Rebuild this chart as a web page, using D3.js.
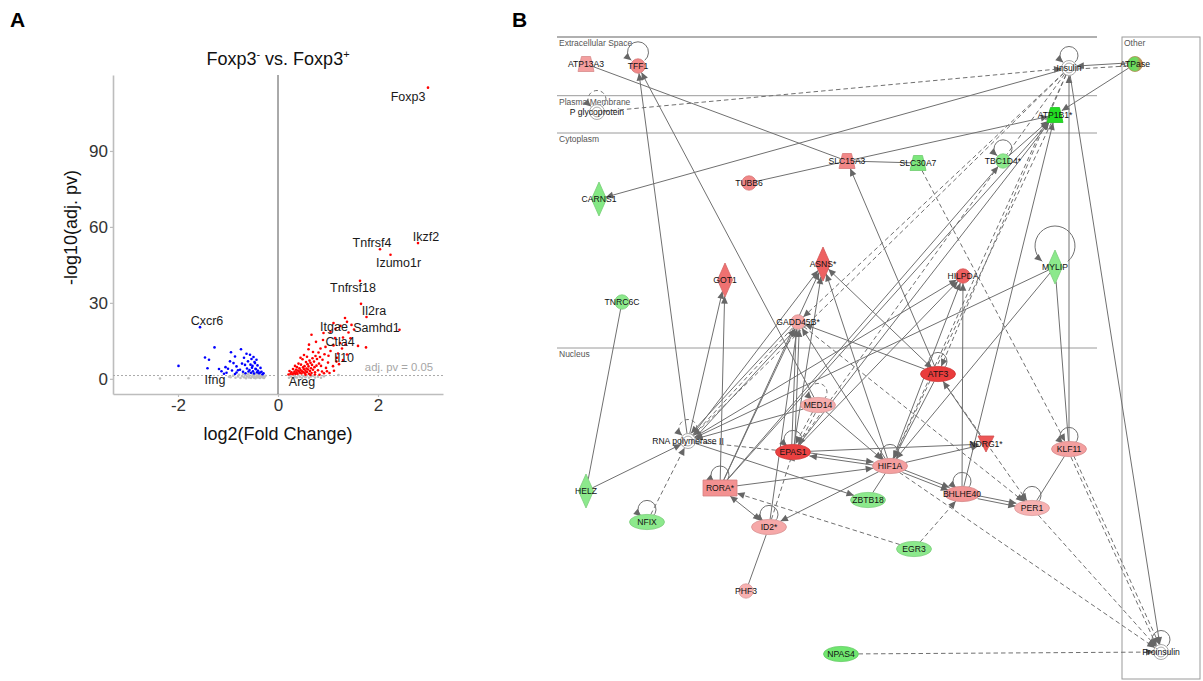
<!DOCTYPE html>
<html>
<head>
<meta charset="utf-8">
<script src="https://cdn.jsdelivr.net/npm/d3@7"></script>
<style>
  html, body { margin: 0; padding: 0; background: #fff; }
  svg { display: block; font-family: Arial, "Liberation Sans", Helvetica, sans-serif; opacity: 0.999; }
</style>
</head>
<body>
<svg id="fig" width="1203" height="681"></svg>
<script>
// ======================= Panel A: volcano plot data =======================
// each point: [log2 fold change, -log10 adjusted p]
const sigDown = [
  [-1.99,5.1],[-1.27,12.4],[-1.46,8.4],[-1.38,7.5],[-1.41,4.2],[-1.18,3.9],[-1.13,3.0],[-1.03,2.4],
  [-1.05,4.6],[-0.96,6.9],[-0.94,10.5],[-0.89,6.2],[-0.86,8.8],[-0.83,4.9],[-0.83,2.5],[-0.80,3.4],
  [-0.76,3.6],[-0.74,11.7],[-0.72,6.0],[-0.70,2.8],[-0.68,8.3],[-0.66,5.5],[-0.65,2.2],[-0.63,9.9],
  [-0.62,4.1],[-0.60,6.9],[-0.59,2.9],[-0.57,3.5],[-0.56,9.5],[-0.55,5.6],[-0.54,2.4],[-0.53,7.8],
  [-0.52,4.4],[-0.51,5.1],[-0.50,3.0],[-0.49,8.6],[-0.48,2.1],[-0.47,6.6],[-0.46,6.2],[-0.45,4.0],
  [-0.44,3.8],[-0.43,7.5],[-0.42,2.6],[-0.41,5.3],[-0.40,3.2],[-0.38,2.2],[-0.36,2.5],[-0.35,4.3],
  [-0.33,2.8],[-0.31,1.8],[-0.29,2.2],[-0.86,1.9],[-0.92,3.3],[-1.00,4.0],[-1.08,2.0]
];
const sigUp = [
  [1.77,24.4],[1.34,24.0],[1.47,21.3],[1.41,18.3],[1.52,19.5],[1.45,16.0],[1.11,22.0],[0.91,18.1],
  [0.67,17.4],[1.14,16.1],[1.24,14.1],[1.11,13.2],[1.76,12.4],[0.61,11.7],[0.81,10.4],[1.01,9.1],
  [0.89,7.5],[1.05,11.0],[1.20,10.0],[1.28,12.0],[0.95,12.6],[1.35,13.5],[1.18,8.3],[1.22,5.8],
  [1.10,5.0],[1.00,6.4],[0.96,4.3],[0.93,9.7],[0.85,12.0],[0.84,8.6],[0.82,6.0],[0.80,3.4],
  [0.78,7.8],[0.77,5.2],[0.75,9.0],[0.74,2.6],[0.73,4.6],[0.72,6.8],[0.70,3.6],[0.69,8.1],
  [0.68,5.5],[0.67,2.3],[0.66,4.2],[0.65,6.3],[0.64,3.1],[0.63,7.2],[0.62,2.0],[0.61,4.9],
  [0.60,3.7],[0.59,5.8],[0.58,2.7],[0.57,4.1],[0.56,6.6],[0.55,3.2],[0.54,2.2],[0.53,5.0],
  [0.52,3.8],[0.51,2.6],[0.50,4.5],[0.49,7.7],[0.48,3.0],[0.47,2.1],[0.46,5.6],[0.45,3.5],
  [0.44,2.4],[0.43,4.2],[0.42,2.9],[0.41,6.0],[0.40,3.3],[0.39,2.0],[0.38,4.6],[0.37,2.6],
  [0.36,3.6],[0.35,1.9],[0.34,5.1],[0.33,2.9],[0.32,2.2],[0.30,3.9],[0.29,1.8],[0.27,2.6],
  [0.25,2.0],[0.23,3.1],[0.21,1.7],[0.88,2.9],[0.92,2.2],[0.86,5.1],[0.98,3.0],[1.03,2.3],
  [0.70,10.6],[0.58,8.7],[0.52,9.4],[0.45,8.3],[0.62,13.5],[0.76,14.6],[0.90,15.3],[1.05,18.6],
  [1.15,19.8],[1.25,20.9],[0.55,1.6],[0.65,1.5],[0.74,1.7],[0.83,1.6],[1.12,3.2],[1.30,7.4],
  [1.38,9.6],[1.60,13.0]
];
const notSig = [
  [-2.36,0.1],[-1.79,0.2],[-0.95,0.6],[-0.90,1.2],[-0.85,0.4],[-0.80,0.9],[-0.78,1.6],[-0.75,0.3],
  [-0.72,1.1],[-0.70,2.0],[-0.68,0.6],[-0.66,1.4],[-0.64,0.2],[-0.62,0.9],[-0.60,1.8],[-0.58,0.5],
  [-0.57,1.2],[-0.55,2.3],[-0.54,0.3],[-0.52,0.8],[-0.51,1.5],[-0.50,2.6],[-0.48,0.4],[-0.47,1.0],
  [-0.46,1.9],[-0.45,0.2],[-0.43,0.7],[-0.42,1.3],[-0.41,2.1],[-0.40,0.5],[-0.38,1.1],[-0.37,1.7],
  [-0.36,0.3],[-0.34,0.8],[-0.33,1.4],[-0.31,0.5],[-0.30,1.0],[-0.28,0.3],[-0.27,0.7],[-0.25,1.2],
  [0.22,0.4],[0.26,0.9],[0.30,0.3],[0.34,1.0],[0.38,0.5],[0.41,1.4],[0.44,0.8],[0.48,0.3],
  [0.51,1.1],[0.55,0.6],[0.58,1.3],[0.62,0.4],[0.66,0.9],[0.70,1.2],[0.74,0.5],[0.80,0.8],
  [0.86,0.4],[0.92,1.0],[1.21,1.5]
];
// labelled genes
const labelGenes = ["Foxp3","Ikzf2","Tnfrsf4","Izumo1r","Tnfrsf18","Il2ra","Samhd1","Itgae","Ctla4","Il10","Cxcr6","Ifng","Areg"];
const labelFC    = [3.00, 2.80, 2.04, 2.25, 1.64, 1.66, 2.43, 1.38, 1.30, 1.17, -1.56, -0.98, 0.35];
const labelPv    = [115.0, 53.6, 51.2, 49.0, 38.7, 29.6, 19.4, 22.5, 16.3, 6.8, 20.4, 0.8, 0.6];
const labelClass = ["up","up","up","up","up","up","up","up","up","up","down","ns","ns"];
const xTicks = [-2, 0, 2];
const yTicks = [0, 30, 60, 90];
const pvCutoff = 0.05;

// ======================= Panel B: network data =======================
const nodeNames = ["ATP13A3","TFF1","P glycoprotein","TUBB6","SLC15A3","SLC30A7","TBC1D4*","ATP1B1*","Insulin","ATPase",
  "CARNS1","GOT1","ASNS*","HILPDA","MYLIP","TNRC6C","GADD45B*","MED14","ATF3","RNA polymerase II",
  "EPAS1","HIF1A","NDRG1*","KLF11","BHLHE40","PER1","RORA*","ZBTB18","ID2*","HELZ",
  "NFIX","EGR3","PHF3","NPAS4","Proinsulin"];
const nodeTypes = ["transporter","other","group","other","transporter","transporter","other","transporter","group","mixed",
  "enzyme","enzyme","enzyme","other","enzyme","other","other","tr","tr","group",
  "tr","tr","kinase","tr","tr","tr","receptor","tr","tr","enzyme",
  "tr","tr","other","tr","group"];
// expression change used for node colouring (null = not measured)
const nodeFC = [1.1, 1.6, null, 1.6, 1.6, -1.6, -1.3, -3.0, null, null,
  -1.5, 2.0, 2.3, 2.3, -1.3, -1.3, 0.9, 0.8, 3.0, null,
  2.9, 1.1, 2.5, 1.1, 1.3, 0.7, 1.4, -1.3, 0.9, -1.3,
  -1.3, -1.3, 0.7, -1.8, null];
const compartments = ["Extracellular Space","Plasma Membrane","Cytoplasm","Nucleus"];
const otherCompartment = "Other";
// [source, target, line style, end marker]
const edges = [
  ["ATP13A3","SLC15A3","solid","none"],["TUBB6","SLC15A3","solid","none"],["SLC15A3","SLC30A7","solid","none"],
  ["SLC15A3","ATP1B1*","solid","end"],["P glycoprotein","Insulin","dashed","end"],["Insulin","CARNS1","solid","end"],
  ["ATPase","Insulin","dashed","none"],["ATPase","Insulin","solid","end"],["ATPase","ATP1B1*","solid","end"],
  ["RNA polymerase II","TFF1","solid","end"],["MED14","TFF1","solid","end"],
  ["RNA polymerase II","GOT1","solid","end"],["RORA*","GOT1","solid","end"],
  ["RNA polymerase II","ASNS*","solid","end"],["RORA*","ASNS*","solid","end"],["EPAS1","ASNS*","solid","end"],
  ["HIF1A","ASNS*","solid","end"],["ATF3","ASNS*","solid","end"],
  ["RNA polymerase II","GADD45B*","solid","end"],["RNA polymerase II","GADD45B*","dashed","none"],["GADD45B*","RNA polymerase II","solid","end"],
  ["RORA*","GADD45B*","solid","end"],["EPAS1","GADD45B*","solid","end"],["EPAS1","GADD45B*","solid","end"],
  ["HIF1A","GADD45B*","solid","end"],["ID2*","GADD45B*","solid","end"],["ATF3","GADD45B*","solid","end"],
  ["Insulin","GADD45B*","dashed","end"],
  ["MED14","RNA polymerase II","solid","end"],["EPAS1","RNA polymerase II","dashed","none"],
  ["RNA polymerase II","ZBTB18","solid","end"],["HELZ","RNA polymerase II","solid","end"],["TNRC6C","HELZ","solid","none"],
  ["NFIX","RNA polymerase II","dashed","end"],["Insulin","RNA polymerase II","dashed","end"],["MYLIP","RNA polymerase II","solid","end"],
  ["Insulin","EPAS1","dashed","end"],["Insulin","ATF3","dashed","end"],["Insulin","HIF1A","dashed","end"],["ATP1B1*","HIF1A","dashed","end"],
  ["EPAS1","ATP1B1*","solid","end"],["TBC1D4*","ATP1B1*","solid","end"],["BHLHE40","ATP1B1*","solid","end"],
  ["RORA*","ATP1B1*","solid","end"],["RORA*","TBC1D4*","solid","end"],
  ["ATF3","SLC15A3","solid","end"],
  ["BHLHE40","HILPDA","solid","end"],["HIF1A","HILPDA","solid","end"],["EPAS1","HILPDA","solid","end"],["RNA polymerase II","HILPDA","solid","end"],
  ["SLC30A7","KLF11","dashed","end"],["MYLIP","KLF11","solid","none"],["KLF11","Insulin","solid","end"],["MYLIP","HIF1A","solid","end"],
  ["Insulin","Proinsulin","solid","end"],["HIF1A","Proinsulin","dashed","end"],["PER1","Proinsulin","dashed","end"],
  ["KLF11","Proinsulin","dashed","end"],["KLF11","Proinsulin","dashed","end"],["NPAS4","Proinsulin","dashed","end"],
  ["KLF11","PER1","solid","none"],["BHLHE40","PER1","solid","end"],["BHLHE40","PER1","solid","end"],
  ["HIF1A","BHLHE40","solid","end"],["HIF1A","BHLHE40","solid","end"],["EGR3","BHLHE40","dashed","end"],["EGR3","RORA*","dashed","end"],
  ["HIF1A","NDRG1*","solid","end"],["EPAS1","NDRG1*","solid","end"],["NDRG1*","ATF3","solid","end"],
  ["ATF3","PER1","dashed","end"],["GADD45B*","PER1","dashed","end"],
  ["EPAS1","HIF1A","solid","end"],["HIF1A","EPAS1","solid","end"],["RORA*","HIF1A","solid","end"],["HIF1A","ID2*","solid","end"],
  ["RORA*","ID2*","solid","both"],["ID2*","EPAS1","dashed","inhibit"],["ID2*","PHF3","solid","none"],
  ["MED14","HIF1A","solid","end"],["MED14","EPAS1","dashed","end"],["MED14","EPAS1","dashed","end"],
  ["ZBTB18","HIF1A","solid","none"],["ATF3","HIF1A","solid","end"],
  // self-regulation
  ["TFF1","TFF1","solid","end"],["Insulin","Insulin","solid","end"],["P glycoprotein","P glycoprotein","dashed","end"],
  ["TBC1D4*","TBC1D4*","solid","end"],["MYLIP","MYLIP","solid","end"],["RNA polymerase II","RNA polymerase II","dashed","end"],
  ["MED14","MED14","dashed","end"],["EPAS1","EPAS1","solid","end"],["HIF1A","HIF1A","solid","end"],["ATF3","ATF3","solid","end"],
  ["BHLHE40","BHLHE40","solid","end"],["PER1","PER1","solid","end"],["KLF11","KLF11","solid","end"],["RORA*","RORA*","solid","end"],
  ["ID2*","ID2*","solid","end"],["NFIX","NFIX","solid","end"],["Proinsulin","Proinsulin","solid","end"]
];

// ---------------- layout (network canvas units) ----------------
const nodeLayout = {
  "ATP13A3":[29,27],"TFF1":[81,29],"P glycoprotein":[40,75],"TUBB6":[192,146],"SLC15A3":[290,124],
  "SLC30A7":[361,126],"TBC1D4*":[446,124],"ATP1B1*":[498,78],"Insulin":[512,31],"ATPase":[578,27],
  "CARNS1":[42,162],"GOT1":[168,243],"ASNS*":[266,227],"HILPDA":[406,239],"MYLIP":[498,230],
  "TNRC6C":[65,265],"GADD45B*":[241,285],"MED14":[261,368],"ATF3":[381,337],"RNA polymerase II":[131,404],
  "EPAS1":[236,415],"HIF1A":[333,429],"NDRG1*":[429,407],"KLF11":[512,412],"BHLHE40":[405,457],
  "PER1":[475,471],"RORA*":[163,451],"ZBTB18":[311,463],"ID2*":[212,490],"HELZ":[29,454],
  "NFIX":[90,485],"EGR3":[357,512],"PHF3":[189,554],"NPAS4":[284,617],"Proinsulin":[604,615]
};
const compartmentTop = [0, 58.7, 96, 311];
const loopStyle = { "MYLIP":[20,16], "TFF1":[10.5,4] };   // [radius, overlap]

// ============================ drawing ============================
const svg = d3.select("#fig");

// ---------- panel letters ----------
svg.append("text").attr("x", 10).attr("y", 27).text("A")
  .attr("font-size", 21).attr("font-weight", "bold").attr("fill", "#000");
svg.append("text").attr("x", 512).attr("y", 27).text("B")
  .attr("font-size", 21).attr("font-weight", "bold").attr("fill", "#000");

// ---------- Panel A ----------
const gA = svg.append("g");
const x = d3.scaleLinear().domain([-3.3, 3.3]).range([113, 443]);
const y = d3.scaleLinear().domain([-6, 120]).range([394, 75]);

const yAxis = gA.append("g").attr("transform", `translate(${x.range()[0]},0)`)
  .call(d3.axisLeft(y).tickValues(yTicks).tickSize(3).tickSizeOuter(0).tickPadding(2));
const xAxis = gA.append("g").attr("transform", `translate(0,${y.range()[0]})`)
  .call(d3.axisBottom(x).tickValues(xTicks).tickSize(3).tickSizeOuter(0).tickPadding(2));
[yAxis, xAxis].forEach(ax => {
  ax.select(".domain").attr("stroke", "#bdbdbd").attr("stroke-width", 1.6);
  ax.selectAll(".tick line").attr("stroke", "#bdbdbd").attr("stroke-width", 1.2);
  ax.selectAll(".tick text").attr("font-size", 17).attr("fill", "#333")
    .attr("font-family", "Arial, 'Liberation Sans', sans-serif");
});
xAxis.selectAll(".tick text").text(d => d < 0 ? "-" + Math.abs(d) : d);

// zero line
gA.append("line").attr("x1", x(0)).attr("x2", x(0)).attr("y1", y.range()[1]).attr("y2", y.range()[0])
  .attr("stroke", "#555").attr("stroke-width", 1);
// significance threshold
const yCut = -Math.log10(pvCutoff);
gA.append("line").attr("x1", x.range()[0]).attr("x2", x.range()[1]).attr("y1", y(yCut)).attr("y2", y(yCut))
  .attr("stroke", "#aaa").attr("stroke-width", 1).attr("stroke-dasharray", "2,2");
gA.append("text").attr("x", x(3.1)).attr("y", y(yCut) - 5).attr("text-anchor", "end")
  .attr("font-size", 11.3).attr("fill", "#a6a6a6").text("adj. pv = " + pvCutoff);

// points
const pointColor = { ns: "#bebebe", down: "#0000ff", up: "#ff0000" };
function drawPoints(data, cls) {
  gA.append("g").selectAll("circle").data(data).join("circle")
    .attr("cx", d => x(d[0])).attr("cy", d => y(d[1])).attr("r", 1.3)
    .attr("fill", pointColor[cls]);
}
drawPoints(notSig, "ns");
drawPoints(sigDown, "down");
drawPoints(sigUp, "up");
const labelled = labelGenes.map((g, i) => ({ gene: g, fc: labelFC[i], pv: labelPv[i], cls: labelClass[i] }));
gA.append("g").selectAll("circle").data(labelled).join("circle")
  .attr("cx", d => x(d.fc)).attr("cy", d => y(d.pv)).attr("r", 1.3)
  .attr("fill", d => pointColor[d.cls]);

// gene labels, nudged off their points
const labelNudge = {
  Foxp3:[-20,13], Ikzf2:[8,-2], Tnfrsf4:[-8,-2], Izumo1r:[8,12], Tnfrsf18:[-7,11], Il2ra:[13,11],
  Samhd1:[-23,2], Itgae:[-13,9], Ctla4:[-3,8], Il10:[7.5,0], Cxcr6:[7,-2], Ifng:[-14,7], Areg:[6.5,9]
};
gA.append("g").selectAll("text").data(labelled).join("text")
  .attr("x", d => x(d.fc) + labelNudge[d.gene][0])
  .attr("y", d => y(d.pv) + labelNudge[d.gene][1])
  .attr("text-anchor", "middle").attr("font-size", 12.5).attr("fill", "#1a1a1a")
  .text(d => d.gene);

// title and axis titles
const title = gA.append("text").attr("x", x(0)).attr("y", 65).attr("text-anchor", "middle")
  .attr("font-size", 18).attr("fill", "#111");
title.append("tspan").text("Foxp3");
title.append("tspan").text("-").attr("font-size", 11).attr("dy", -7);
title.append("tspan").text(" vs. Foxp3").attr("dy", 7);
title.append("tspan").text("+").attr("font-size", 11).attr("dy", -7);
gA.append("text").attr("x", x(0)).attr("y", 440).attr("text-anchor", "middle")
  .attr("font-size", 18).attr("fill", "#111").text("log2(Fold Change)");
gA.append("text").attr("transform", `translate(77,${(y.range()[0] + y.range()[1]) / 2 - 7}) rotate(-90)`)
  .attr("text-anchor", "middle").attr("font-size", 18).attr("fill", "#111").text("-log10(adj. pv)");

// ---------- Panel B ----------
const gB = svg.append("g");
const bx = d3.scaleLinear().domain([0, 646]).range([557, 1203]);
const by = d3.scaleLinear().domain([0, 644]).range([37, 681]);

const defs = svg.append("defs");
const grad = defs.append("linearGradient").attr("id", "mixGrad").attr("x1", 0).attr("x2", 1).attr("y1", 0).attr("y2", 0);
grad.append("stop").attr("offset", "0%").attr("stop-color", "#5ddc5a");
grad.append("stop").attr("offset", "62%").attr("stop-color", "#74d860");
grad.append("stop").attr("offset", "100%").attr("stop-color", "#e46a45");
const edgeColor = "#707070";
defs.append("marker").attr("id", "arr").attr("viewBox", "-8 -5 9 10")
  .attr("refX", 0).attr("refY", 0).attr("markerWidth", 9).attr("markerHeight", 10)
  .attr("markerUnits", "userSpaceOnUse").attr("orient", "auto-start-reverse")
  .append("path").attr("d", "M-7.5,-3.4L0,0L-7.5,3.4Z").attr("fill", "#666");
defs.append("marker").attr("id", "bar").attr("viewBox", "-2 -6 4 12")
  .attr("refX", 0).attr("refY", 0).attr("markerWidth", 4).attr("markerHeight", 12)
  .attr("markerUnits", "userSpaceOnUse").attr("orient", "auto")
  .append("path").attr("d", "M0,-4.5L0,4.5").attr("stroke", "#777").attr("stroke-width", 1.2);

// compartments
const lineRight = 540;
compartments.forEach((name, i) => {
  const yy = by(compartmentTop[i]);
  gB.append("line").attr("x1", bx(0)).attr("x2", bx(lineRight)).attr("y1", yy).attr("y2", yy)
    .attr("stroke", i === 0 ? "#b0b0b0" : "#9a9a9a").attr("stroke-width", i === 0 ? 2 : 1);
  gB.append("text").attr("x", bx(2)).attr("y", yy + 9).attr("font-size", 8.5).attr("fill", "#555").text(name);
});
gB.append("rect").attr("x", bx(565)).attr("y", by(0)).attr("width", bx(643) - bx(565)).attr("height", by(642) - by(0))
  .attr("fill", "none").attr("stroke", "#9a9a9a").attr("stroke-width", 1);
gB.append("text").attr("x", bx(567)).attr("y", by(9)).attr("font-size", 8.5).attr("fill", "#555").text(otherCompartment);

// node geometry
const colorScale = d3.scaleLinear().domain([-3, -1.5, -0.3, 0.3, 1.5, 3])
  .range(["#22dd22", "#84e884", "#b4f0b4", "#f9c4c4", "#f28c8c", "#ea3c3c"]);
const geom = {
  transporter: { kind: "trap", w: 16, t: 9, h: 15 },
  other: { kind: "ellipse", rx: 7.2, ry: 7.2 },
  mixed: { kind: "ellipse", rx: 7.5, ry: 7.5 },
  group: { kind: "double", rx: 7.5, ry: 7.5 },
  enzyme: { kind: "diamond", w: 15, h: 34 },
  tr: { kind: "ellipse", rx: 17.5, ry: 7.6 },
  kinase: { kind: "tri", w: 16, h: 16 },
  receptor: { kind: "rect", w: 34, h: 16 }
};
const nodes = nodeNames.map((n, i) => ({
  name: n, type: nodeTypes[i], fc: nodeFC[i], g: geom[nodeTypes[i]],
  x: bx(nodeLayout[n][0]), y: by(nodeLayout[n][1])
}));
const byName = new Map(nodes.map(n => [n.name, n]));

function halfHeight(n) { return n.g.kind === "ellipse" || n.g.kind === "double" ? n.g.ry : n.g.h / 2; }
// distance from node centre to its outline along unit direction (ux, uy)
function boundary(n, ux, uy) {
  const g = n.g, ax = Math.abs(ux) + 1e-9, ay = Math.abs(uy) + 1e-9;
  switch (g.kind) {
    case "ellipse": case "double": return 1 / Math.sqrt((ux / g.rx) ** 2 + (uy / g.ry) ** 2);
    case "diamond": return 1 / (ax / (g.w / 2) + ay / (g.h / 2));
    case "rect": return Math.min((g.w / 2) / ax, (g.h / 2) / ay);
    case "trap": return Math.min((g.w * 0.42) / ax, (g.h / 2) / ay);
    default: return 7.5;
  }
}

// parallel edge offsets
const pairCount = d3.rollup(edges.filter(e => e[0] !== e[1]), v => v.length, e => [e[0], e[1]].sort().join("|"));
const pairSeen = new Map();
const edgeLayer = gB.append("g");
edges.forEach(e => {
  const [s, t, style, mark] = e;
  const S = byName.get(s), T = byName.get(t);
  if (s === t) {
    // self-loop drawn as an arc above the node
    const [r, ov] = loopStyle[s] || [9, 4];
    const cx = S.x, cy = S.y - halfHeight(S) - r + ov;
    const a = 50 * Math.PI / 180;
    const p0 = [cx + r * Math.cos(a), cy + r * Math.sin(a)];
    const p1 = [cx - r * Math.cos(a), cy + r * Math.sin(a)];
    edgeLayer.append("path")
      .attr("d", `M${p0[0]},${p0[1]}A${r},${r} 0 1 0 ${p1[0]},${p1[1]}`)
      .attr("fill", "none").attr("stroke", edgeColor).attr("stroke-width", 1)
      .attr("stroke-dasharray", style === "dashed" ? "4,3" : null)
      .attr("marker-end", "url(#arr)");
    return;
  }
  const key = [s, t].sort().join("|");
  const n = pairCount.get(key), k = pairSeen.get(key) || 0;
  pairSeen.set(key, k + 1);
  const A0 = byName.get(key.split("|")[0]), B0 = byName.get(key.split("|")[1]);
  let px = -(B0.y - A0.y), py = B0.x - A0.x;
  const pl = Math.hypot(px, py); px /= pl; py /= pl;
  const off = (k - (n - 1) / 2) * 3;
  const dx = T.x - S.x, dy = T.y - S.y, L = Math.hypot(dx, dy), ux = dx / L, uy = dy / L;
  const ds = boundary(S, ux, uy), dt = boundary(T, -ux, -uy);
  const x1 = S.x + ux * ds + px * off, y1 = S.y + uy * ds + py * off;
  const x2 = T.x - ux * dt + px * off, y2 = T.y - uy * dt + py * off;
  edgeLayer.append("line").attr("x1", x1).attr("y1", y1).attr("x2", x2).attr("y2", y2)
    .attr("stroke", edgeColor).attr("stroke-width", 1)
    .attr("stroke-dasharray", style === "dashed" ? "4.5,3" : null)
    .attr("marker-end", mark === "end" || mark === "both" ? "url(#arr)" : mark === "inhibit" ? "url(#bar)" : null)
    .attr("marker-start", mark === "both" ? "url(#arr)" : null);
});

// nodes
const nodeLayer = gB.append("g");
nodes.forEach(n => {
  const g = nodeLayer.append("g").attr("transform", `translate(${n.x},${n.y})`);
  const fill = n.type === "mixed" ? "url(#mixGrad)" : (n.fc == null ? "#fff" : colorScale(n.fc));
  const stroke = n.fc == null ? "#9a9a9a" : d3.color(colorScale(n.fc)).darker(0.35).formatHex();
  const G = n.g;
  if (G.kind === "ellipse") {
    g.append("ellipse").attr("rx", G.rx).attr("ry", G.ry).attr("fill", fill)
      .attr("stroke", n.type === "mixed" ? "#b08a50" : stroke).attr("stroke-width", 0.8);
  } else if (G.kind === "double") {
    g.append("circle").attr("r", G.rx).attr("fill", "#fff").attr("stroke", "#a0a0a0").attr("stroke-width", 0.9);
    g.append("circle").attr("r", G.rx - 2.6).attr("fill", "none").attr("stroke", "#a0a0a0").attr("stroke-width", 0.9);
  } else {
    let d;
    if (G.kind === "diamond") d = `M0,${-G.h / 2}L${G.w / 2},0L0,${G.h / 2}L${-G.w / 2},0Z`;
    else if (G.kind === "trap") d = `M${-G.t / 2},${-G.h / 2}L${G.t / 2},${-G.h / 2}L${G.w / 2},${G.h / 2}L${-G.w / 2},${G.h / 2}Z`;
    else if (G.kind === "rect") d = `M${-G.w / 2},${-G.h / 2}h${G.w}v${G.h}h${-G.w}Z`;
    else d = `M${-G.w / 2},${-G.h / 2}L${G.w / 2},${-G.h / 2}L0,${G.h / 2}Z`;
    g.append("path").attr("d", d).attr("fill", fill).attr("stroke", stroke).attr("stroke-width", 0.8);
  }
  g.append("text").attr("text-anchor", "middle").attr("dy", "0.35em")
    .attr("font-size", 8.6).attr("fill", "#111").text(n.name);
});
</script>
</body>
</html>
